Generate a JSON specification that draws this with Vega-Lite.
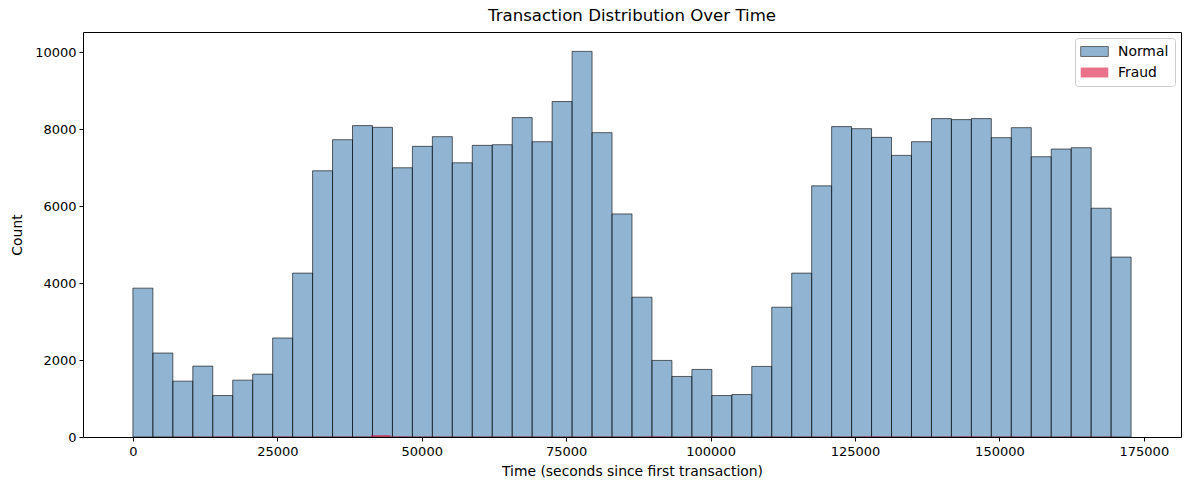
{
  "$schema": "https://vega.github.io/schema/vega-lite/v6.json",
  "width": 1098,
  "height": 405,
  "autosize": "none",
  "padding": {"left": 83, "top": 32, "right": 8, "bottom": 53},
  "background": "white",
  "title": {
    "text": "Transaction Distribution Over Time",
    "font": "DejaVu Sans",
    "fontSize": 16.6,
    "fontWeight": "normal",
    "color": "black",
    "offset": 7
  },
  "config": {
    "view": {"stroke": "black", "strokeWidth": 1},
    "axis": {
      "labelFont": "DejaVu Sans",
      "labelFontSize": 13,
      "labelColor": "black",
      "titleFont": "DejaVu Sans",
      "titleFontSize": 13.9,
      "titleFontWeight": "normal",
      "titleColor": "black",
      "tickColor": "black",
      "tickSize": 4,
      "domain": false,
      "grid": false
    }
  },
  "data": {
    "values": [
      {"type": "Normal", "start": 0, "end": 3456, "count": 3870},
      {"type": "Normal", "start": 3456, "end": 6912, "count": 2183},
      {"type": "Normal", "start": 6912, "end": 10368, "count": 1452},
      {"type": "Normal", "start": 10368, "end": 13823, "count": 1843},
      {"type": "Normal", "start": 13823, "end": 17279, "count": 1078},
      {"type": "Normal", "start": 17279, "end": 20735, "count": 1478},
      {"type": "Normal", "start": 20735, "end": 24191, "count": 1635},
      {"type": "Normal", "start": 24191, "end": 27647, "count": 2574},
      {"type": "Normal", "start": 27647, "end": 31103, "count": 4261},
      {"type": "Normal", "start": 31103, "end": 34558, "count": 6922},
      {"type": "Normal", "start": 34558, "end": 38014, "count": 7730},
      {"type": "Normal", "start": 38014, "end": 41470, "count": 8096},
      {"type": "Normal", "start": 41470, "end": 44926, "count": 8052},
      {"type": "Normal", "start": 44926, "end": 48382, "count": 7000},
      {"type": "Normal", "start": 48382, "end": 51838, "count": 7557},
      {"type": "Normal", "start": 51838, "end": 55293, "count": 7809},
      {"type": "Normal", "start": 55293, "end": 58749, "count": 7130},
      {"type": "Normal", "start": 58749, "end": 62205, "count": 7583},
      {"type": "Normal", "start": 62205, "end": 65661, "count": 7600},
      {"type": "Normal", "start": 65661, "end": 69117, "count": 8304},
      {"type": "Normal", "start": 69117, "end": 72573, "count": 7678},
      {"type": "Normal", "start": 72573, "end": 76028, "count": 8722},
      {"type": "Normal", "start": 76028, "end": 79484, "count": 10026},
      {"type": "Normal", "start": 79484, "end": 82940, "count": 7913},
      {"type": "Normal", "start": 82940, "end": 86396, "count": 5800},
      {"type": "Normal", "start": 86396, "end": 89852, "count": 3635},
      {"type": "Normal", "start": 89852, "end": 93308, "count": 1991},
      {"type": "Normal", "start": 93308, "end": 96763, "count": 1574},
      {"type": "Normal", "start": 96763, "end": 100219, "count": 1757},
      {"type": "Normal", "start": 100219, "end": 103675, "count": 1078},
      {"type": "Normal", "start": 103675, "end": 107131, "count": 1104},
      {"type": "Normal", "start": 107131, "end": 110587, "count": 1835},
      {"type": "Normal", "start": 110587, "end": 114043, "count": 3374},
      {"type": "Normal", "start": 114043, "end": 117498, "count": 4261},
      {"type": "Normal", "start": 117498, "end": 120954, "count": 6530},
      {"type": "Normal", "start": 120954, "end": 124410, "count": 8070},
      {"type": "Normal", "start": 124410, "end": 127866, "count": 8017},
      {"type": "Normal", "start": 127866, "end": 131322, "count": 7791},
      {"type": "Normal", "start": 131322, "end": 134778, "count": 7322},
      {"type": "Normal", "start": 134778, "end": 138234, "count": 7678},
      {"type": "Normal", "start": 138234, "end": 141689, "count": 8278},
      {"type": "Normal", "start": 141689, "end": 145145, "count": 8252},
      {"type": "Normal", "start": 145145, "end": 148601, "count": 8278},
      {"type": "Normal", "start": 148601, "end": 152057, "count": 7783},
      {"type": "Normal", "start": 152057, "end": 155513, "count": 8043},
      {"type": "Normal", "start": 155513, "end": 158969, "count": 7287},
      {"type": "Normal", "start": 158969, "end": 162424, "count": 7487},
      {"type": "Normal", "start": 162424, "end": 165880, "count": 7522},
      {"type": "Normal", "start": 165880, "end": 169336, "count": 5948},
      {"type": "Normal", "start": 169336, "end": 172792, "count": 4678},
      {"type": "Fraud", "start": 406, "end": 3805, "count": 3},
      {"type": "Fraud", "start": 3805, "end": 7204, "count": 4},
      {"type": "Fraud", "start": 7204, "end": 10603, "count": 8},
      {"type": "Fraud", "start": 10603, "end": 14001, "count": 6},
      {"type": "Fraud", "start": 14001, "end": 17400, "count": 10},
      {"type": "Fraud", "start": 17400, "end": 20799, "count": 8},
      {"type": "Fraud", "start": 20799, "end": 24198, "count": 6},
      {"type": "Fraud", "start": 24198, "end": 27597, "count": 12},
      {"type": "Fraud", "start": 27597, "end": 30996, "count": 8},
      {"type": "Fraud", "start": 30996, "end": 34394, "count": 10},
      {"type": "Fraud", "start": 34394, "end": 37793, "count": 12},
      {"type": "Fraud", "start": 37793, "end": 41192, "count": 10},
      {"type": "Fraud", "start": 41192, "end": 44591, "count": 52},
      {"type": "Fraud", "start": 44591, "end": 47990, "count": 14},
      {"type": "Fraud", "start": 47990, "end": 51389, "count": 10},
      {"type": "Fraud", "start": 51389, "end": 54787, "count": 8},
      {"type": "Fraud", "start": 54787, "end": 58186, "count": 6},
      {"type": "Fraud", "start": 58186, "end": 61585, "count": 8},
      {"type": "Fraud", "start": 61585, "end": 64984, "count": 10},
      {"type": "Fraud", "start": 64984, "end": 68383, "count": 12},
      {"type": "Fraud", "start": 68383, "end": 71782, "count": 9},
      {"type": "Fraud", "start": 71782, "end": 75180, "count": 6},
      {"type": "Fraud", "start": 75180, "end": 78579, "count": 8},
      {"type": "Fraud", "start": 78579, "end": 81978, "count": 12},
      {"type": "Fraud", "start": 81978, "end": 85377, "count": 10},
      {"type": "Fraud", "start": 85377, "end": 88776, "count": 8},
      {"type": "Fraud", "start": 88776, "end": 92175, "count": 14},
      {"type": "Fraud", "start": 92175, "end": 95573, "count": 6},
      {"type": "Fraud", "start": 95573, "end": 98972, "count": 10},
      {"type": "Fraud", "start": 98972, "end": 102371, "count": 12},
      {"type": "Fraud", "start": 102371, "end": 105770, "count": 8},
      {"type": "Fraud", "start": 105770, "end": 109169, "count": 4},
      {"type": "Fraud", "start": 109169, "end": 112568, "count": 10},
      {"type": "Fraud", "start": 112568, "end": 115966, "count": 6},
      {"type": "Fraud", "start": 115966, "end": 119365, "count": 8},
      {"type": "Fraud", "start": 119365, "end": 122764, "count": 7},
      {"type": "Fraud", "start": 122764, "end": 126163, "count": 10},
      {"type": "Fraud", "start": 126163, "end": 129562, "count": 14},
      {"type": "Fraud", "start": 129562, "end": 132961, "count": 12},
      {"type": "Fraud", "start": 132961, "end": 136360, "count": 10},
      {"type": "Fraud", "start": 136360, "end": 139758, "count": 6},
      {"type": "Fraud", "start": 139758, "end": 143157, "count": 12},
      {"type": "Fraud", "start": 143157, "end": 146556, "count": 14},
      {"type": "Fraud", "start": 146556, "end": 149955, "count": 10},
      {"type": "Fraud", "start": 149955, "end": 153354, "count": 12},
      {"type": "Fraud", "start": 153354, "end": 156752, "count": 8},
      {"type": "Fraud", "start": 156752, "end": 160151, "count": 6},
      {"type": "Fraud", "start": 160151, "end": 163550, "count": 10},
      {"type": "Fraud", "start": 163550, "end": 166949, "count": 6},
      {"type": "Fraud", "start": 166949, "end": 170348, "count": 8}
    ]
  },
  "mark": {
    "type": "rect",
    "fillOpacity": 0.6,
    "strokeOpacity": 0.6,
    "strokeWidth": 1
  },
  "encoding": {
    "x": {
      "field": "start",
      "type": "quantitative",
      "title": "Time (seconds since first transaction)",
      "scale": {"domain": [-8640, 181432], "nice": false, "zero": false},
      "axis": {"values": [0, 25000, 50000, 75000, 100000, 125000, 150000, 175000], "format": "d", "labelPadding": 4, "titlePadding": 6}
    },
    "x2": {"field": "end"},
    "y": {
      "field": "count",
      "type": "quantitative",
      "title": "Count",
      "scale": {"domain": [0, 10530], "nice": false},
      "axis": {"values": [0, 2000, 4000, 6000, 8000, 10000], "format": "d", "labelPadding": 3, "titlePadding": 10}
    },
    "y2": {"datum": 0},
    "color": {
      "field": "type",
      "type": "nominal",
      "title": null,
      "scale": {"domain": ["Normal", "Fraud"], "range": ["steelblue", "crimson"]},
      "legend": {
        "orient": "top-right",
        "offset": 6,
        "padding": 6,
        "fillColor": "white",
        "strokeColor": "#cccccc",
        "cornerRadius": 3,
        "labelFont": "DejaVu Sans",
        "labelFontSize": 13.9,
        "labelColor": "black",
        "symbolType": "M-2,-0.72H2V0.72H-2Z",
        "symbolSize": 190,
        "symbolOffset": 6,
        "symbolOpacity": 0.6,
        "symbolStrokeWidth": 1,
        "rowPadding": 6,
        "labelOffset": 16
      }
    },
    "stroke": {
      "field": "type",
      "type": "nominal",
      "title": null,
      "scale": {"domain": ["Normal", "Fraud"], "range": ["black", "transparent"]}
    }
  }
}
